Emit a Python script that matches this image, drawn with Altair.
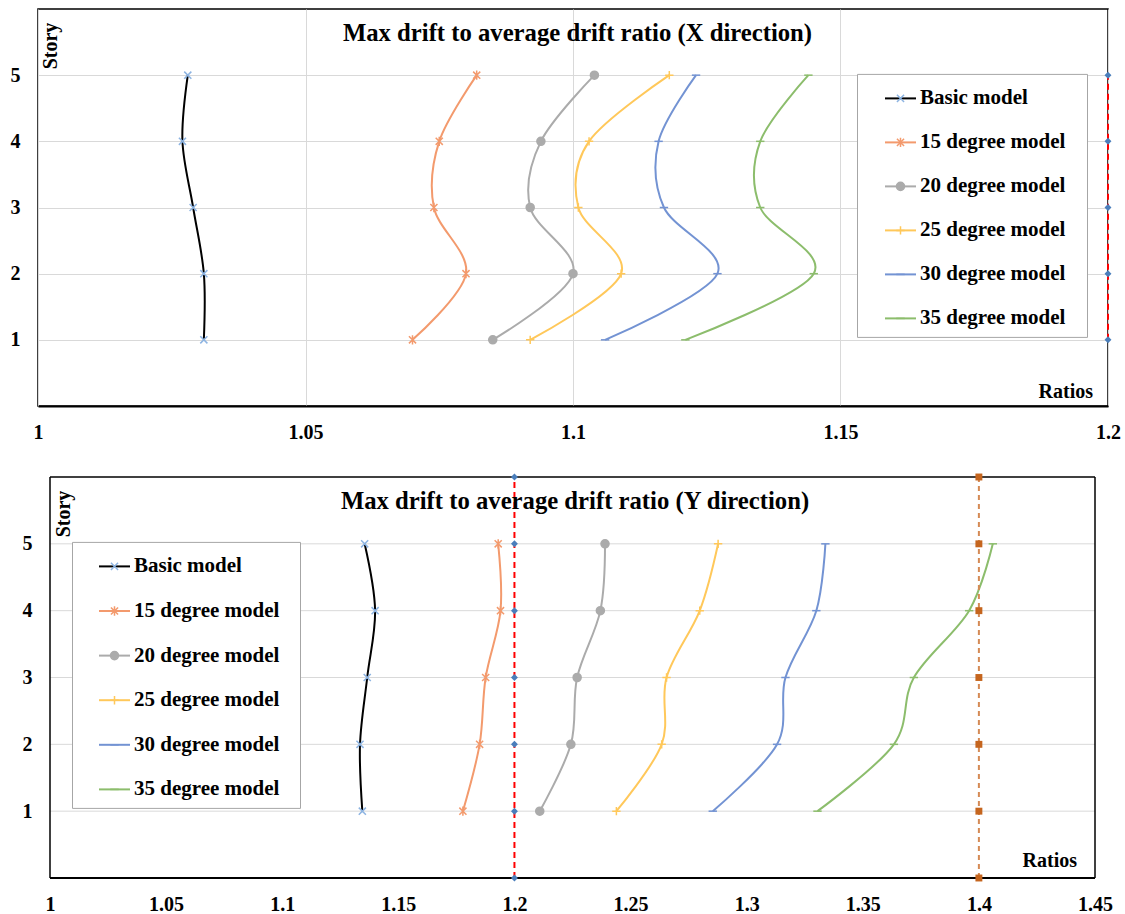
import altair as alt
import pandas as pd

# ---------------- data ----------------
stories = [1, 2, 3, 4, 5]
models = ["Basic model", "15 degree model", "20 degree model",
          "25 degree model", "30 degree model", "35 degree model"]

# X direction ratios, story 1..5
x_basic = [1.031, 1.031, 1.029, 1.027, 1.028]
x_15 = [1.070, 1.080, 1.074, 1.075, 1.082]
x_20 = [1.085, 1.100, 1.092, 1.094, 1.104]
x_25 = [1.092, 1.109, 1.101, 1.103, 1.118]
x_30 = [1.106, 1.127, 1.117, 1.116, 1.123]
x_35 = [1.121, 1.145, 1.135, 1.135, 1.144]

# Y direction ratios, story 1..5
y_basic = [1.1345, 1.1335, 1.1366, 1.1400, 1.1355]
y_15 = [1.1778, 1.1850, 1.1876, 1.1940, 1.1930]
y_20 = [1.2109, 1.2243, 1.2270, 1.2370, 1.2390]
y_25 = [1.2439, 1.2634, 1.2655, 1.2798, 1.2877]
y_30 = [1.2854, 1.3131, 1.3167, 1.3300, 1.3339]
y_35 = [1.3305, 1.3634, 1.3720, 1.3958, 1.4060]

limit_stories_x = [1, 2, 3, 4, 5]
limit_x = 1.2
limit_stories_y = [0, 1, 2, 3, 4, 5, 6]
limit_y_a = 1.2
limit_y_b = 1.4

ticks_x = [1, 1.05, 1.1, 1.15, 1.2]
ticks_y = [1, 1.05, 1.1, 1.15, 1.2, 1.25, 1.3, 1.35, 1.4, 1.45]
range_x = [1, 1.2]
range_y = [1, 1.45]
story_range = [0, 6]

title_x = "Max drift to average drift ratio (X direction)"
title_y = "Max drift to average drift ratio (Y direction)"

# ---------------- styles ----------------
FONT = "Liberation Serif"
GRID = "#D9D9D9"
line_colors = ["#000000", "#F39A6D", "#ABABAB", "#FFC85A", "#7393D3", "#8CBD6C"]
marker_colors = ["#8DB4E2", "#F39A6D", "#ABABAB", "#FFC85A", "#7393D3", "#8CBD6C"]
marker_fills = ["transparent", "transparent", "#ABABAB", "transparent", "transparent", "transparent"]
marker_shapes = [
    "M-0.23,-0.23L0.23,0.23M-0.23,0.23L0.23,-0.23",
    "M-0.23,-0.23L0.23,0.23M-0.23,0.23L0.23,-0.23M0,-0.3L0,0.3",
    "M-0.26,0A0.26,0.26 0 1,0 0.26,0A0.26,0.26 0 1,0 -0.26,0Z",
    "M-0.27,0L0.27,0M0,-0.27L0,0.27",
    "M-0.27,0L0.27,0",
    "M-0.27,0L0.27,0",
]
SUFFIX = " ~"
models_l = [m + SUFFIX for m in models]


def long_df(series):
    rows = []
    for m, vals in zip(models, series):
        for s, v in zip(stories, vals):
            rows.append({"model": m, "model_l": m + SUFFIX, "story": s, "ratio": v})
    return pd.DataFrame(rows)


def panel(series, xrange_, xticks, xgrid, width, height, left_gap, xextent,
          title, title_cx, limits, leg_box, leg_sym, row_pad, story_xy, ratios_xy):
    df = long_df(series)
    plot_w = width - left_gap
    xdomain = [xrange_[0] - left_gap * (xrange_[1] - xrange_[0]) / plot_w, xrange_[1]]
    manual = left_gap > 0
    xscale = alt.Scale(domain=xdomain, nice=False, zero=False)
    yscale = alt.Scale(domain=story_range, nice=False, zero=False)
    xaxis = alt.Axis(values=xticks, format=".2~f", grid=xgrid, gridColor=GRID,
                     gridWidth=1, ticks=False, labelPadding=16, labelFlush=False,
                     domain=not manual, domainColor="black", domainWidth=2, title=None,
                     minExtent=xextent, maxExtent=xextent,
                     labelFont=FONT, labelFontSize=20, labelFontWeight="bold",
                     labelColor="black")
    yaxis = alt.Axis(values=stories, format="d", grid=not manual, gridColor=GRID,
                     gridWidth=1, ticks=False, domain=False, labelPadding=18 - left_gap,
                     title=None, minExtent=37, maxExtent=37,
                     labelFont=FONT, labelFontSize=20, labelFontWeight="bold",
                     labelColor="black")
    X = alt.X("ratio:Q", scale=xscale, axis=xaxis)
    Y = alt.Y("story:Q", scale=yscale, axis=yaxis)

    leg1 = alt.Legend(orient="none", legendX=leg_box[0], legendY=leg_box[1], title=None,
                      symbolType="stroke", symbolSize=961, symbolStrokeWidth=2,
                      padding=8, symbolOffset=leg_box[2], labelOffset=leg_box[3],
                      labelColor="transparent", labelFont=FONT, labelFontSize=21,
                      labelFontWeight="bold", labelLimit=400,
                      labelExpr="replace(datum.label, ' ~', '')",
                      rowPadding=row_pad, strokeColor="#A6A6A6", fillColor="white",
                      cornerRadius=0)
    leg2 = alt.Legend(orient="none", legendX=leg_sym[0], legendY=leg_sym[1], title=None,
                      symbolSize=961, symbolStrokeWidth=1.5, padding=0, labelOffset=3,
                      labelColor="black", labelFont=FONT, labelFontSize=21,
                      labelFontWeight="bold", labelLimit=400, rowPadding=row_pad)

    layers = []
    borders = []
    if manual:
        gdf = pd.DataFrame({"ratio": [xrange_[0]] * len(stories),
                            "ratio2": [xrange_[1]] * len(stories),
                            "story": stories, "story2": stories})
        layers.append(alt.Chart(gdf).mark_rule(color=GRID, strokeWidth=1).encode(
            x=X, x2="ratio2:Q", y=Y, y2="story2:Q"))
        hdf = pd.DataFrame({"ratio": [xrange_[0]] * 2, "ratio2": [xrange_[1]] * 2,
                            "story": story_range, "story2": story_range,
                            "w": [2.0, 1.5]})
        vdf = pd.DataFrame({"ratio": xrange_, "ratio2": xrange_,
                            "story": [story_range[0]] * 2, "story2": [story_range[1]] * 2})
        borders.append(alt.Chart(hdf).mark_rule(color="black").encode(
            x=X, x2="ratio2:Q", y=Y, y2="story2:Q",
            strokeWidth=alt.StrokeWidth("w:Q", scale=None, legend=None)))
        borders.append(alt.Chart(vdf).mark_rule(color="black", strokeWidth=1.5).encode(
            x=X, x2="ratio2:Q", y=Y, y2="story2:Q"))

    lines = alt.Chart(df).mark_line(interpolate="cardinal", strokeWidth=2).encode(
        x=X, y=Y,
        color=alt.Color("model_l:N", scale=alt.Scale(domain=models_l, range=line_colors),
                        legend=leg1),
        order="story:Q",
    )
    points = alt.Chart(df).mark_point(filled=True, opacity=1, size=961, strokeWidth=1.5).encode(
        x=X, y=Y,
        stroke=alt.Stroke("model:N", scale=alt.Scale(domain=models, range=marker_colors),
                          legend=leg2),
        fill=alt.Fill("model:N", scale=alt.Scale(domain=models, range=marker_fills),
                      legend=leg2),
        shape=alt.Shape("model:N", scale=alt.Scale(domain=models, range=marker_shapes),
                        legend=leg2),
    )
    layers += [lines, points] + borders
    for (lx, lst, lcol, mcol, mshape, dash) in limits:
        ldf = pd.DataFrame({"ratio": [lx] * len(lst), "story": lst})
        layers.append(alt.Chart(ldf).mark_line(strokeDash=dash, strokeWidth=2, color=lcol).encode(
            x=X, y=Y, order="story:Q"))
        layers.append(alt.Chart(ldf).mark_point(shape=mshape, filled=True, size=48, opacity=1,
                                                color=mcol).encode(x=X, y=Y))

    tdf = pd.DataFrame({"t": [title]})
    layers.append(alt.Chart(tdf).mark_text(font=FONT, fontSize=24.7, fontWeight="bold",
                                           color="black", align="center", baseline="middle").encode(
        text="t:N", x=alt.value(title_cx), y=alt.value(25)))
    sdf = pd.DataFrame({"t": ["Story"]})
    layers.append(alt.Chart(sdf).mark_text(font=FONT, fontSize=20, fontWeight="bold",
                                           color="black", align="center", baseline="middle",
                                           angle=270).encode(
        text="t:N", x=alt.value(story_xy[0]), y=alt.value(story_xy[1])))
    rdf = pd.DataFrame({"t": ["Ratios"]})
    layers.append(alt.Chart(rdf).mark_text(font=FONT, fontSize=20, fontWeight="bold",
                                           color="black", align="right",
                                           baseline="alphabetic").encode(
        text="t:N", x=alt.value(ratios_xy[0]), y=alt.value(ratios_xy[1])))

    out = alt.layer(*layers).properties(width=width, height=height)
    if manual:
        out = out.properties(view=alt.ViewBackground(stroke="transparent"))
    return out


W1, H1 = 1070, 397
W2, H2 = 1057, 401

top = panel([x_basic, x_15, x_20, x_25, x_30, x_35], range_x, ticks_x, True, W1, H1,
            0, 40, title_x, 539.5,
            [(limit_x, limit_stories_x, "#FF0000", "#4A7EBB", "diamond", [6, 4])],
            (819, 64.9, 19, 16.5), (846, 72.9), 17.0, (13, 37), (W1 - 15, H1 - 8))

bottom = panel([y_basic, y_15, y_20, y_25, y_30, y_35], range_y, ticks_y, False, W2, H2,
               12, 36, title_y, 537,
               [(limit_y_a, limit_stories_y, "#FF0000", "#4A7EBB", "diamond", [6, 4]),
                (limit_y_b, limit_stories_y, "#D58A55", "#C5651E", "square", [5, 4])],
               (34, 64.9, 18, 15.5), (60, 72.9), 17.6, (25.5, 37), (1039, H2 - 11))

chart = alt.vconcat(top, bottom, spacing=25).properties(
    padding={"left": 0, "top": 8, "right": 0, "bottom": 0}
).resolve_scale(
    x="independent", y="independent", color="independent", stroke="independent",
    fill="independent", shape="independent"
).configure_view(stroke="black", strokeWidth=1.5)

chart.save("out.html", embed_options={"renderer": "svg", "actions": False})
